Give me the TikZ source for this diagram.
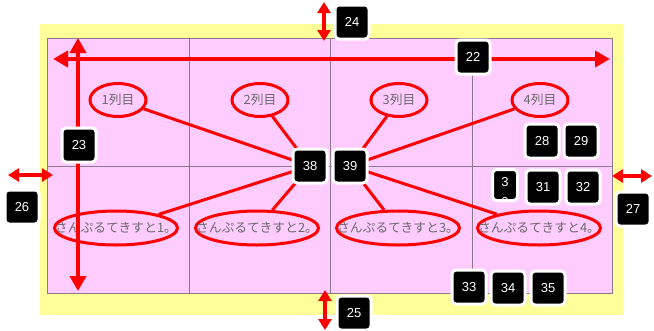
\documentclass[tikz,border=0pt]{standalone}
\usepackage{fontspec}
\newfontfamily\jpfont{Noto Sans CJK JP}
\newfontfamily\numfont{Liberation Sans}
\usetikzlibrary{arrows.meta,shapes.geometric}
\definecolor{padyellow}{RGB}{255,255,153}
\definecolor{cellpink}{RGB}{255,204,255}
\definecolor{gridgray}{RGB}{140,120,140}
\definecolor{markred}{RGB}{255,0,0}
\definecolor{labelgray}{RGB}{105,105,105}
\tikzset{
  tag/.style={fill=black, draw=white, line width=3pt, rounded corners=4pt,
    minimum width=34pt, minimum height=34pt, inner sep=0pt,
    text=white, font=\numfont\fontsize{13}{15}\selectfont},
  ring/.style={ellipse, draw=markred, line width=3pt, inner sep=0pt,
    minimum height=33pt, text=labelgray, font=\jpfont\fontsize{12.8}{14}\selectfont},
  guide/.style={draw=markred, line width=4pt,
    {Triangle[length=15pt,width=16pt]}-{Triangle[length=15pt,width=16pt]}},
  gap/.style={draw=markred, line width=3.5pt,
    {Triangle[length=11pt,width=13pt]}-{Triangle[length=11pt,width=13pt]}},
  link/.style={draw=markred, line width=3pt}
}
\begin{document}
\begin{tikzpicture}[x=1pt, y=-1pt]
    \useasboundingbox (0,0) rectangle (654,330);

    % Padding and table
    \fill[padyellow] (40,24) rectangle (623,315);
    \filldraw[fill=cellpink, draw=gridgray, line width=1pt] (47,38) rectangle (612,293);
    \foreach \x in {189,330,472}
        \draw[gridgray, line width=1pt] (\x,38) -- (\x,293);
    \draw[gridgray, line width=1pt] (47,166) -- (612,166);

    % Column headers
    \node[ring, minimum width=56pt] (h1) at (118,100) {\makebox[0pt]{1列目}};
    \node[ring, minimum width=56pt] (h2) at (260,100) {\makebox[0pt]{2列目}};
    \node[ring, minimum width=56pt] (h3) at (399,100) {\makebox[0pt]{3列目}};
    \node[ring, minimum width=56pt] (h4) at (540,100) {\makebox[0pt]{4列目}};

    % Cell texts
    \node[ring, minimum width=123pt, minimum height=34pt] (s1) at (116,228) {\makebox[0pt]{さんぷるてきすと1。}};
    \node[ring, minimum width=123pt, minimum height=34pt] (s2) at (257,228) {\makebox[0pt]{さんぷるてきすと2。}};
    \node[ring, minimum width=123pt, minimum height=34pt] (s3) at (398,228) {\makebox[0pt]{さんぷるてきすと3。}};
    \node[ring, minimum width=123pt, minimum height=34pt] (s4) at (539,228) {\makebox[0pt]{さんぷるてきすと4。}};

    % Markers
    \coordinate (c38) at (310,166);
    \coordinate (c39) at (350,166);
    \draw[link] (h1) -- (c38);
    \draw[link] (h2) -- (c38);
    \draw[link] (s1) -- (c38);
    \draw[link] (s2) -- (c38);
    \draw[link] (h3) -- (c39);
    \draw[link] (h4) -- (c39);
    \draw[link] (s3) -- (c39);
    \draw[link] (s4) -- (c39);

    % Dimension arrows
    \coordinate (wl) at (53,59);  \coordinate (wr) at (610,59);
    \coordinate (ht) at (78,38);  \coordinate (hb) at (78,291);
    \coordinate (tt) at (324,2);  \coordinate (tb) at (324,41);
    \coordinate (bt) at (325,290); \coordinate (bb) at (325,330);
    \coordinate (ll) at (8,175);  \coordinate (lr) at (53,175);
    \coordinate (rl) at (612,176); \coordinate (rr) at (652,176);
    \draw[guide] (wl) -- (wr);
    \draw[guide] (ht) -- (hb);
    \draw[gap] (tt) -- (tb);
    \draw[gap] (bt) -- (bb);
    \draw[gap] (ll) -- (lr);
    \draw[gap] (rl) -- (rr);

    % Number tags
    \node[tag] (t22) at (473,57) {22};
    \node[tag] (t23) at (79,145) {23};
    \node[tag] (t24) at (352,22) {24};
    \node[tag] (t25) at (354,313) {25};
    \node[tag] (t26) at (22,207) {26};
    \node[tag] (t27) at (633,209) {27};
    \node[tag] (t28) at (542,141) {28};
    \node[tag] (t29) at (581,141) {29};
    \node[tag, minimum width=25pt, minimum height=31pt] (t30) at (505,185) {};
    \begin{scope}
        \clip (t30.south west) rectangle (t30.north east);
        \node[text=white, font=\numfont\fontsize{13}{20}\selectfont, align=center] at (505,192) {3\\0};
    \end{scope}
    \node[tag] (t31) at (543,187) {31};
    \node[tag] (t32) at (583,187) {32};
    \node[tag] (t33) at (469,287) {33};
    \node[tag] (t34) at (508,288) {34};
    \node[tag] (t35) at (548,288) {35};
    \node[tag] (t38) at (310,166) {38};
    \node[tag] (t39) at (350,166) {39};
\end{tikzpicture}
\end{document}
